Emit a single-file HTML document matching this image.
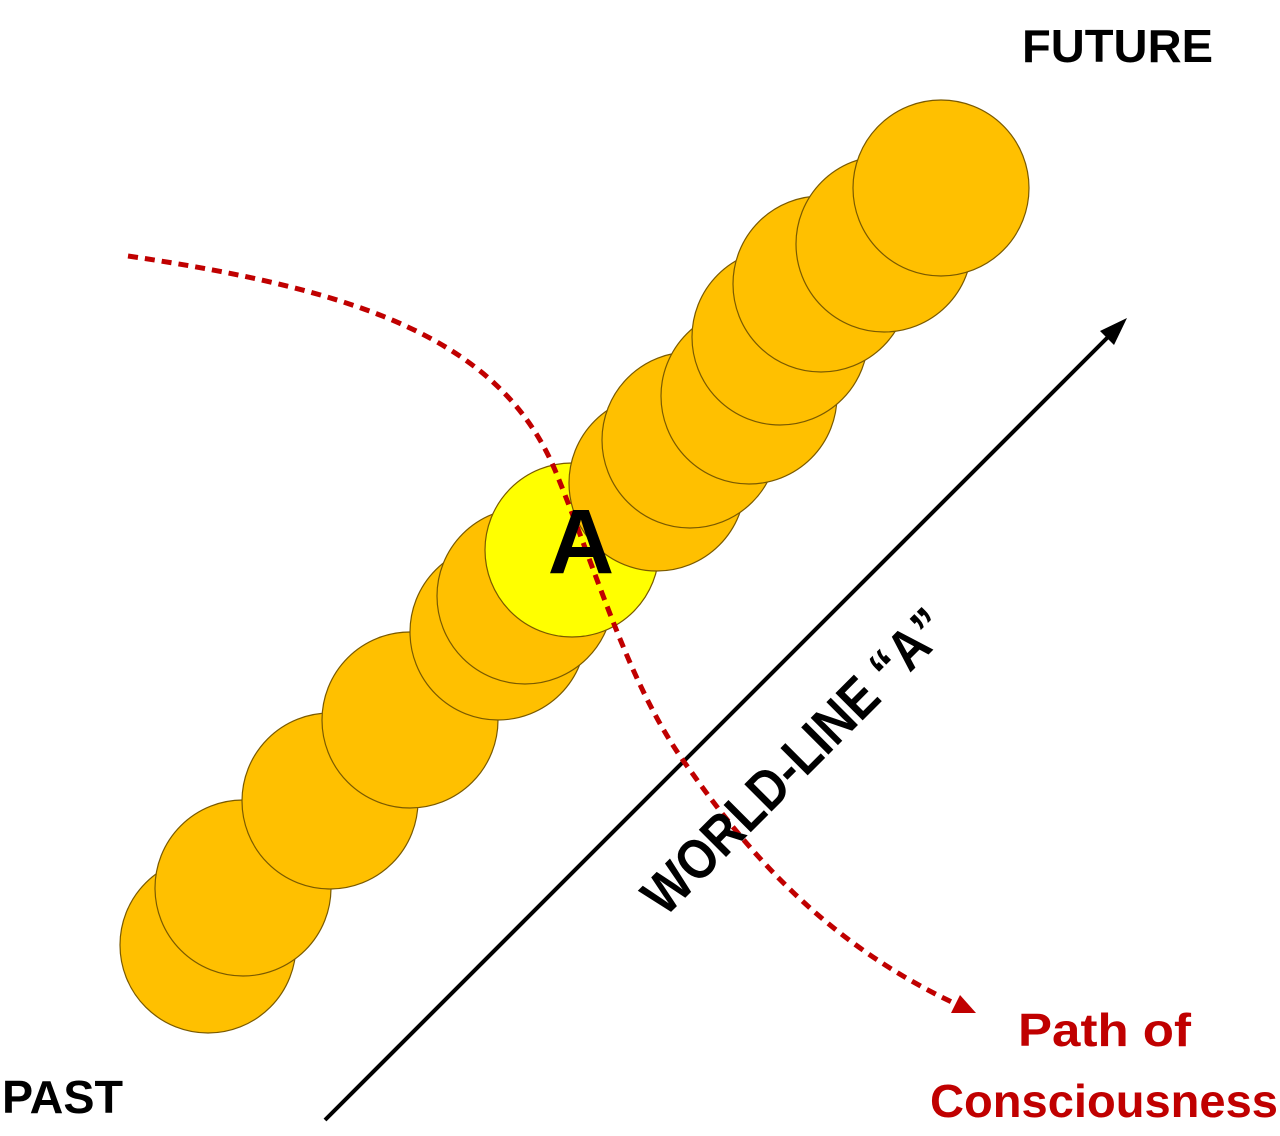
<!DOCTYPE html>
<html><head><meta charset="utf-8"><style>html,body{margin:0;padding:0;background:#fff}svg{display:block}</style></head>
<body>
<svg width="1280" height="1136" viewBox="0 0 1280 1136" xmlns="http://www.w3.org/2000/svg">
<g stroke="#7a5a00" stroke-width="1.2" fill="#FFC000">
<circle cx="208" cy="945" r="88"/>
<circle cx="243" cy="888" r="88"/>
<circle cx="330" cy="801" r="88"/>
<circle cx="410" cy="720" r="88"/>
<circle cx="498" cy="632" r="88"/>
<circle cx="525" cy="596" r="88"/>
<circle cx="572" cy="550" r="87" fill="#FFFF00"/>
<circle cx="657" cy="483" r="88"/>
<circle cx="690" cy="440" r="88"/>
<circle cx="749" cy="396" r="88"/>
<circle cx="780" cy="337" r="88"/>
<circle cx="821" cy="284" r="88"/>
<circle cx="884" cy="244" r="88"/>
<circle cx="941" cy="188" r="88"/>
</g>
<line x1="325" y1="1120" x2="1118" y2="327" stroke="#000" stroke-width="4"/>
<path d="M1127,318 L1100,331 L1114,345 z" fill="#000"/>
<path d="M128,256 C360,290 500,340 555,470 C600,580 630,690 690,770 C760,870 840,950 958,1005" fill="none" stroke="#C00000" stroke-width="5" stroke-dasharray="10,7"/>
<path d="M976,1013 L951,1013 L960,995 z" fill="#C00000"/>
<text x="581" y="573" font-family="Liberation Sans, sans-serif" font-weight="bold" font-size="92" text-anchor="middle" fill="#000">A</text>
<text x="0" y="0" transform="translate(665,918) rotate(-45)" font-family="Liberation Sans, sans-serif" font-weight="bold" font-size="56" textLength="405" lengthAdjust="spacingAndGlyphs" fill="#000">WORLD-LINE “A”</text>
<text x="1022" y="62" font-family="Liberation Sans, sans-serif" font-weight="bold" font-size="46" textLength="191" lengthAdjust="spacingAndGlyphs" fill="#000">FUTURE</text>
<text x="2" y="1113" font-family="Liberation Sans, sans-serif" font-weight="bold" font-size="46" textLength="121" lengthAdjust="spacingAndGlyphs" fill="#000">PAST</text>
<text x="1018" y="1046" font-family="Liberation Sans, sans-serif" font-weight="bold" font-size="46" textLength="173" lengthAdjust="spacingAndGlyphs" fill="#C00000">Path of</text>
<text x="930" y="1117" font-family="Liberation Sans, sans-serif" font-weight="bold" font-size="46" textLength="348" lengthAdjust="spacingAndGlyphs" fill="#C00000">Consciousness</text>
</svg>
</body></html>
